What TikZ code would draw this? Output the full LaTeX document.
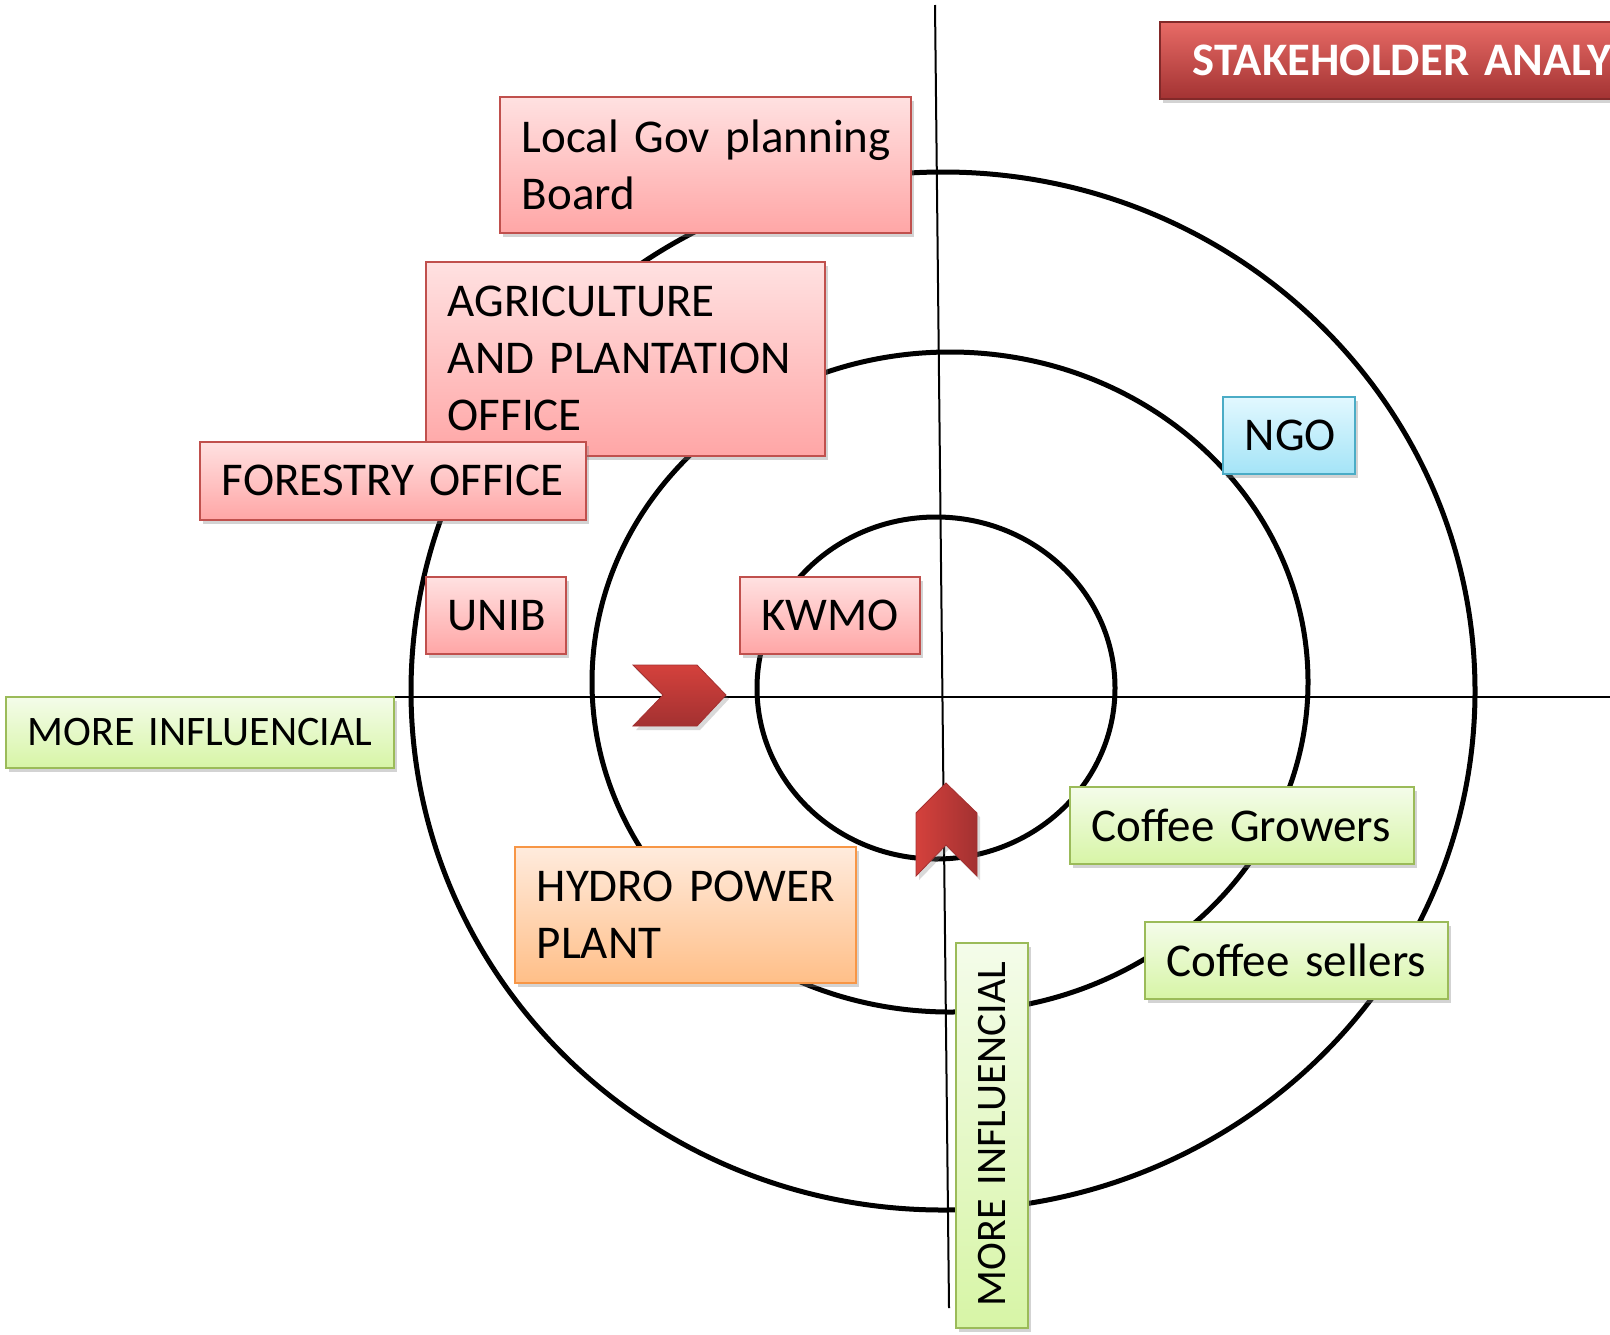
\documentclass[tikz,border=0pt]{standalone}
\usepackage{fontspec}
\setmainfont{Carlito}
\usetikzlibrary{shadows}

\definecolor{redline}{HTML}{C0504D}
\definecolor{redtop}{HTML}{FFE1E1}
\definecolor{redbot}{HTML}{FFA6A6}
\definecolor{greenline}{HTML}{9BBB59}
\definecolor{greentop}{HTML}{F4FCEA}
\definecolor{greenbot}{HTML}{D7F5A6}
\definecolor{blueline}{HTML}{4BACC6}
\definecolor{bluetop}{HTML}{E2F8FF}
\definecolor{bluebot}{HTML}{A4E4F7}
\definecolor{orangeline}{HTML}{F79646}
\definecolor{orangetop}{HTML}{FFEBDD}
\definecolor{orangebot}{HTML}{FFBF88}
\definecolor{chevtop}{HTML}{D4413C}
\definecolor{chevbot}{HTML}{A33131}
\definecolor{titletop}{HTML}{E86B66}
\definecolor{titlemid}{HTML}{CF4541}
\definecolor{titlebot}{HTML}{A33333}

\begin{document}
\begin{tikzpicture}[
        x=0.5pt, y=-0.5pt,
        box/.style={rectangle, line width=0.8pt, align=left, anchor=north west, inner xsep=11pt, inner ysep=0pt, font=\fontsize{23.5pt}{28.5pt}\selectfont, execute at begin node={\hyphenpenalty=10000\hbadness=10000\hfuzz=20pt}, drop shadow={shadow xshift=1.5pt, shadow yshift=-2pt, opacity=0.35}},
        box-red/.style={box, draw=redline, top color=redtop, bottom color=redbot},
        box-green/.style={box, draw=greenline, top color=greentop, bottom color=greenbot},
        box-blue/.style={box, draw=blueline, top color=bluetop, bottom color=bluebot},
        box-orange/.style={box, draw=orangeline, top color=orangetop, bottom color=orangebot},
        box-axis/.style={box-green, font=\fontsize{21pt}{26pt}\selectfont},
        title/.style={rectangle, draw=titlebot!80!black, line width=0.8pt, anchor=north west, inner xsep=16.5pt, text width=300pt, minimum height=38.5pt, text=white, font=\fontsize{23.3pt}{28pt}\selectfont\bfseries, top color=titletop, middle color=titlemid, bottom color=titlebot, drop shadow={shadow xshift=1.5pt, shadow yshift=-2pt, opacity=0.35}},
        ring/.style={line width=2.5pt},
        axis/.style={line width=1pt},
        chevron/.style={draw=chevbot, line width=0.4pt, drop shadow={shadow xshift=1.5pt, shadow yshift=-2pt, opacity=0.3}}
    ]

    \path[use as bounding box] (0,0) rectangle (1610,1334);
    \clip (0,0) rectangle (1610,1334);

    % Axes
    \coordinate (top) at (935,5);
    \coordinate (bottom) at (949,1308);
    \coordinate (left) at (5,697);
    \coordinate (right) at (1610,697);
    \draw[axis] (top) -- (bottom);
    \draw[axis] (left) -- (right);

    % Rings
    \draw[ring] (943,691) ellipse [x radius=532, y radius=519];
    \draw[ring] (950,682) ellipse [x radius=358, y radius=330];
    \draw[ring] (936,688) ellipse [x radius=179, y radius=171];

    % Chevrons
    \path[chevron, top color=chevtop, bottom color=chevbot]
        (633,665) -- (697,665) -- (726,695) -- (697,726) -- (633,726) -- (663,695) -- cycle;
    \path[chevron, left color=chevtop, right color=chevbot]
        (946,783) -- (977,813) -- (977,876) -- (946,845) -- (916,876) -- (916,813) -- cycle;

    % Title
    \node[title] (title) at (1159,21) {STAKEHOLDER ANALY};

    % Red boxes
    \node[box-red, text width=183.5pt, minimum height=68pt] (gov) at (499,96) {Local~Gov~planning\\Board};
    \node[box-red, text width=177.5pt, minimum height=97pt] (agri) at (425,261) {AGRICULTURE\\AND~PLANTATION\\OFFICE};
    \node[box-red, text width=171pt, minimum height=39pt] (forest) at (199,441) {FORESTRY~OFFICE};
    \node[box-red, text width=48pt, minimum height=38.5pt] (unib) at (425,576) {UNIB};
    \node[box-red, text width=68pt, minimum height=38.5pt] (kwmo) at (739,576) {KWMO};

    % Other boxes
    \node[box-blue, text width=44pt, minimum height=38.5pt] (ngo) at (1222,396) {NGO};
    \node[box-orange, text width=148.5pt, minimum height=68pt] (hydro) at (514,846) {HYDRO~POWER\\PLANT};
    \node[box-green, text width=150pt, minimum height=38.5pt] (growers) at (1069,786) {Coffee~Growers};
    \node[box-green, text width=129.5pt, minimum height=38.5pt] (sellers) at (1144,921) {Coffee~sellers};

    % Axis labels
    \node[box-axis, text width=172pt, minimum height=35.5pt] (infl-h) at (5,696) {MORE~INFLUENCIAL};
    \node[box-axis, anchor=center, rotate=90, text width=170.5pt, minimum height=36pt] (infl-v) at (992,1135.5) {MORE~INFLUENCIAL};

\end{tikzpicture}
\end{document}
